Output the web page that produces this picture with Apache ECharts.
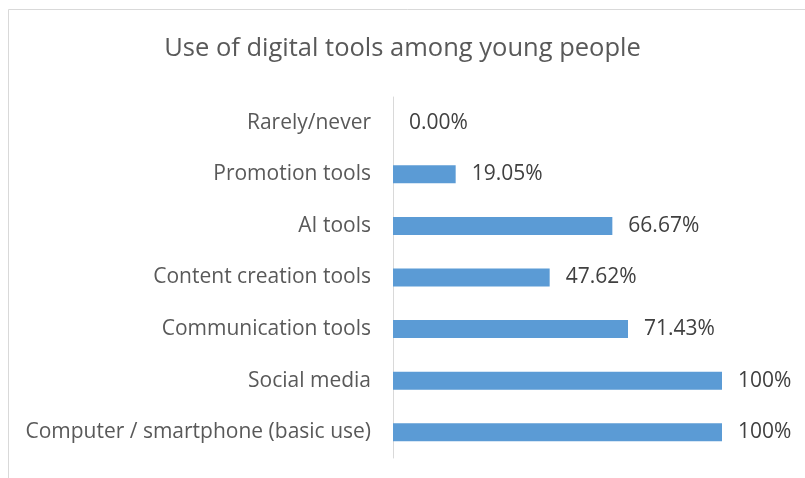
<!DOCTYPE html>
<html>
<head>
<meta charset="utf-8">
<script src="https://cdn.jsdelivr.net/npm/echarts@6/dist/echarts.min.js"></script>
<style>
  html, body { margin: 0; padding: 0; background: #fff; }
  #chart { width: 805px; height: 478px; }
</style>
</head>
<body>
<div id="chart"></div>
<script>
// categories, bottom to top
const categories = [
    'Computer / smartphone (basic use)',
    'Social media',
    'Communication tools',
    'Content creation tools',
    'AI tools',
    'Promotion tools',
    'Rarely/never'
];
const values = [100, 100, 71.43, 47.62, 66.67, 19.05, 0];
const valueLabels = ['100%', '100%', '71.43%', '47.62%', '66.67%', '19.05%', '0.00%'];

let chart = echarts.init(document.getElementById('chart'));
let option = {
    backgroundColor: '#fff',
    textStyle: { fontFamily: 'Open Sans' },
    title: {
        text: 'Use of digital tools among young people',
        left: 'center',
        top: 31,
        textStyle: { fontSize: 25.5, fontWeight: 'normal', color: '#595959', fontFamily: 'Open Sans' }
    },
    // chart border
    graphic: [{
        type: 'rect',
        shape: { x: 8.5, y: 9.5, width: 900, height: 600 },
        style: { fill: 'none', stroke: '#d9d9d9', lineWidth: 1 },
        silent: true
    }],
    grid: { left: 393, right: 83, top: 97, bottom: 20 },
    xAxis: {
        type: 'value',
        min: 0,
        max: 100,
        show: false
    },
    yAxis: {
        type: 'category',
        data: categories,
        axisLine: { show: true, lineStyle: { color: '#d9d9d9', width: 1 } },
        axisTick: { show: false },
        axisLabel: { fontSize: 21, color: '#595959', margin: 22, padding: [4, 0, 0, 0], fontFamily: 'Open Sans' }
    },
    series: [{
        type: 'bar',
        data: values,
        barWidth: 18,
        itemStyle: { color: '#5b9bd5' },
        label: {
            show: true,
            position: 'right',
            distance: 16,
            fontSize: 21,
            padding: [4, 0, 0, 0],
            color: '#404040',
            fontFamily: 'Open Sans',
            formatter: p => valueLabels[p.dataIndex]
        }
    }]
};
chart.setOption(option);
</script>
</body>
</html>
